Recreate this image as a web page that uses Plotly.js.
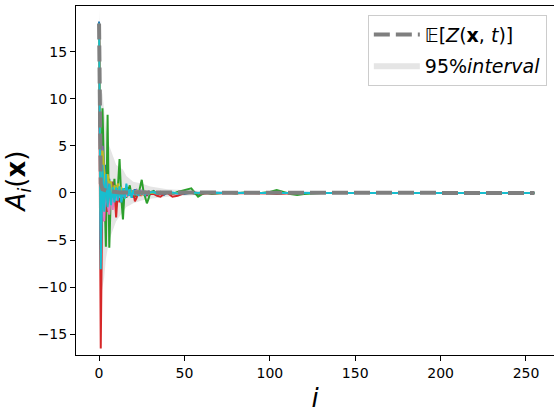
<!DOCTYPE html>
<html>
<head>
<meta charset="utf-8">
<script src="https://cdn.plot.ly/plotly-3.0.1.min.js"></script>
<style>html,body{margin:0;padding:0;background:#fff;}#chart{width:554px;height:413px;}</style>
</head>
<body>
<div id="chart"></div>
<script>
// shared sample indices for the ten coefficient series
const idx = [0,1,2,3,4,5,6,7,8,9,10,
  11,12,13,14,15,16,17,18,19,20,
  21,22,23,24,25,26,27,28,29,30,
  32,34,36,38,40,
  43,46,50,54,58,62,66,70,
  75,80,85,90,95,100,104,108,112,116,120,
  130,140,150,160,170,180,190,200,210,220,230,240,250,255];

const sBlue = [18.2,-6,4,-2,3,-1.5,1.5,-1,1,-0.5,0.8,
  -0.6,0.5,-0.8,-1.5,0.3,-0.4,0.6,-0.3,0.2,-0.5,
  0.4,-0.3,0.2,-0.2,0.3,-0.2,0.1,-0.3,0.2,-0.1,
  0.2,-0.1,0.1,-0.2,0.1,
  -0.1,0.05,-0.1,0.05,-0.2,0,0.05,0,
  0,0.02,0,-0.02,0,0.03,0,-0.02,0,0.02,0,
  0,0,0,0,0,0,0,0,0,0,0,0,0,0];
const sOrange = [17.5,-3,3,-1,2,-1,1,-0.5,0.5,-0.4,0.3,
  -0.3,0.4,-0.2,0.3,-0.4,0.2,-0.1,0.2,-0.2,0.1,
  -0.1,0.2,-0.1,0.1,-0.2,0.1,0,0.1,-0.1,0,
  0.1,-0.1,0,0.1,0,
  -0.05,0,0.05,0,-0.05,0,0,0,
  0,0,0.02,0,0,-0.02,0,0,0.02,0,0,
  0,0,0,0,0,0,0,0,0,0,0,0,0,0];
const sGreen = [17,-2,9.0,1,-5.7,8.3,-5.8,0.5,-1,1.5,-1.5,
  0.5,3.6,-0.5,-2.8,0.5,-0.5,0.3,0.8,-0.3,0.2,
  -0.4,0.3,-0.2,0.6,1.4,0.2,-0.5,-1.1,-0.6,0.1,
  0.2,-0.2,0.1,-0.1,0.1,
  -0.1,0.1,0.3,0.5,-0.4,0.05,-0.1,0,
  0.05,-0.05,0.05,0,0,0.1,0.3,0.1,-0.1,-0.2,-0.1,
  0,0,0,0,0,0,0,0,0,0,0,0,0,0];
const sRed = [16,-16.5,2,-3,1,-2,0.5,-1,0.5,0.3,-2.6,
  0.2,-1,0.3,-0.5,0.2,-0.3,0.2,-0.2,0.1,0.2,
  -0.9,-0.5,0.1,-0.2,0.1,-0.1,0.1,-0.2,0.1,-0.1,
  -0.1,-0.3,-0.4,-0.1,0,
  -0.4,-0.3,0,0.05,0,-0.05,0,0,
  0,0,0,0,0,-0.05,-0.1,-0.05,0,0,0,
  0,0,0,0,0,0,0,0,0,0,0,0,0,0];
const sPurple = [17.8,-3,5,2,-1,1.5,-0.5,1,-0.8,0.5,-0.3,
  0.4,-0.3,0.2,-0.4,0.3,-0.2,0.1,-0.2,0.2,-0.1,
  0.1,0.3,-0.1,0.2,-0.1,0.1,0,-0.1,0.1,0,
  0.1,0,-0.1,0,0.05,
  0,-0.05,0,0.05,0,0,0,0,
  0,0,0,0,0,0,0,0,0,0,0,
  0,0,0,0,0,0,0,0,0,0,0,0,0,0];
const sBrown = [17.6,-5.5,3.5,-2,1,-1,0.8,-0.6,1.2,-0.5,0.4,
  -0.3,0.2,-0.4,0.3,-0.2,0.1,-0.2,0.1,0,0.1,
  -0.1,0.1,-0.1,0,0.1,-0.1,0,0.05,0,0,
  0.05,0,-0.05,0,0,
  0,0,0,0,0,0,0,0,
  0,0,0,0,0,0,0,0,0,0,0,
  0,0,0,0,0,0,0,0,0,0,0,0,0,0];
const sPink = [17.9,-5,2,-3,1.5,-1.2,-2.3,0.5,-1.8,0.6,-0.8,
  0.3,-0.5,0.4,-0.3,0.2,-0.4,0.3,-0.2,0.1,-0.1,
  0.2,-0.2,0.1,-0.1,0.2,-0.1,0.1,0,-0.1,0.05,
  0,-0.05,0.05,0,0,
  -0.05,0,0.05,0,0,0,0,0,
  0,0,0,0,0,0.03,0,0,0,0,0,
  0,0,0,0,0,0,0,0,0,0,0,0,0,0];
const sGray = [18,-4,2,-1,1,-0.8,0.5,-0.4,0.3,-0.2,0.2,
  -0.1,0.1,-0.1,0.1,0,0.1,-0.1,0,0.1,0,
  0,0,0,0,0,0,0,0,0,0,
  0,0,0,0,0,
  0,0,0,0,0,0,0,0,
  0,0,0,0,0,0,0,0,0,0,0,
  0,0,0,0,0,0,0,0,0,0,0,0,0,0];
const sOlive = [17.7,-2,4.5,2.5,0.5,2,1,1.2,-0.5,0.8,0.3,
  1.0,0.2,0.6,-0.2,0.4,0.1,-0.2,0.3,0,0.2,
  -0.1,0.2,0,0.1,-0.1,0.1,0,0.1,0,0,
  0.05,0,0.05,0,0,
  0,0,0,0,0,0,0,0,
  0,0,0,0,0,0,0,0,0,0,0,
  0,0,0,0,0,0,0,0,0,0,0,0,0,0];
const sCyan = [18,-8.1,3,-2,2,-1.5,1,-1.3,0.6,-1.0,0.6,
  -0.8,0.7,-1.0,0.5,-0.6,1.0,-0.3,0.4,-0.5,0.3,
  -0.2,0.2,-0.3,0.2,-0.1,0.1,-0.2,0.1,-0.1,0.05,
  0.1,-0.1,0.05,-0.05,0,
  0.05,-0.05,0,0.05,0,0.1,0,0,
  0,0,0,0,0,0,0,0,0,0,0,
  0,0,0,0,0,0,0,0,0,0,0,0,0,0];

// expected value and 95% interval
const idxM = [0,1,2,3,4,5,6,7,8,9,10,12,14,16,18,20,25,30,40,50,60,80,120,255];
const meanZ = [18,1.0,0.4,0.3,0.3,0.2,0.2,0.15,0.1,0.1,0.1,0.05,0.05,0.03,0.02,0.02,0.01,0,0,0,0,0,0,0];
const lowZ = [16.5,-11,-10,-9,-7,-6,-5,-4.5,-4,-3.5,-3,-2.5,-2,-1.5,-1.3,-1.1,-0.8,-0.6,-0.4,-0.3,-0.2,-0.1,-0.08,-0.05];
const upZ = [19.5,11,10.5,8.5,7,6,5,4.5,4,3.5,3,2.7,2.5,1.8,1.5,1.2,1.0,0.7,0.4,0.3,0.2,0.1,0.08,0.05];

const xTicks = [0,50,100,150,200,250];
const yTicks = [-15,-10,-5,0,5,10,15];

const series = [sBlue,sOrange,sGreen,sRed,sPurple,sBrown,sPink,sGray,sOlive,sCyan];
const colors = ['#1f77b4','#ff7f0e','#2ca02c','#d62728','#9467bd','#8c564b','#e377c2','#7f7f7f','#bcbd22','#17becf'];

const traces = [];
traces.push({x: idxM, y: lowZ, type:'scatter', mode:'lines', line:{width:0, color:'rgba(0,0,0,0)'}, showlegend:false, hoverinfo:'skip', legendgroup:'b'});
traces.push({x: idxM, y: upZ, type:'scatter', mode:'lines', line:{width:0, color:'rgba(0,0,0,0)'}, fill:'tonexty', fillcolor:'rgba(127,127,127,0.2)', name:'95%<i>interval</i>', legendrank:2, legendgroup:'b'});
series.forEach((s,k)=>{
  traces.push({x: idx, y: s, type:'scatter', mode:'lines', line:{color:colors[k], width:2}, showlegend:false});
});
traces.push({x: idxM, y: meanZ, type:'scatter', mode:'lines', line:{color:'#7f7f7f', width:4, dash:'16px,6px'}, name:'𝔼[<i>Z</i>(<b>x</b>, <i>t</i>)]', legendrank:1, legendgroup:'a'});

const font = 'DejaVu Sans, sans-serif';
const layout = {
  width:554, height:413,
  margin:{l:76, r:0, t:6, b:58},
  paper_bgcolor:'#ffffff', plot_bgcolor:'#ffffff',
  font:{family:font, color:'#000000', size:14},
  xaxis:{range:[-13.5,266.4], tickvals:xTicks, ticks:'outside', ticklen:5, tickwidth:1, tickcolor:'#000',
    showline:true, linecolor:'#000', linewidth:1, mirror:true, showgrid:false, zeroline:false,
    tickfont:{size:14, family:font, color:'#000'},
    title:{text:'<i>i</i>', font:{size:26, family:font, color:'#000'}, standoff:15}},
  yaxis:{range:[-17.2,19.85], tickvals:yTicks, ticks:'outside', ticklen:5, tickwidth:1, tickcolor:'#000',
    showline:true, linecolor:'#000', linewidth:1, mirror:false, showgrid:false, zeroline:false,
    tickfont:{size:14, family:font, color:'#000'},
    title:{text:'<i>A</i><sub><i>i</i></sub>(<b>x</b>)', font:{size:26, family:font, color:'#000'}, standoff:4}},
  legend:{x:0.985, xanchor:'right', y:0.975, yanchor:'top', bgcolor:'rgba(255,255,255,0.8)', bordercolor:'#cccccc', borderwidth:1,
    font:{size:19, family:font, color:'#000'}, traceorder:'grouped', tracegroupgap:3, itemwidth:46},
  showlegend:true
};
Plotly.newPlot('chart', traces, layout, {staticPlot:true, displayModeBar:false});
</script>
</body>
</html>
